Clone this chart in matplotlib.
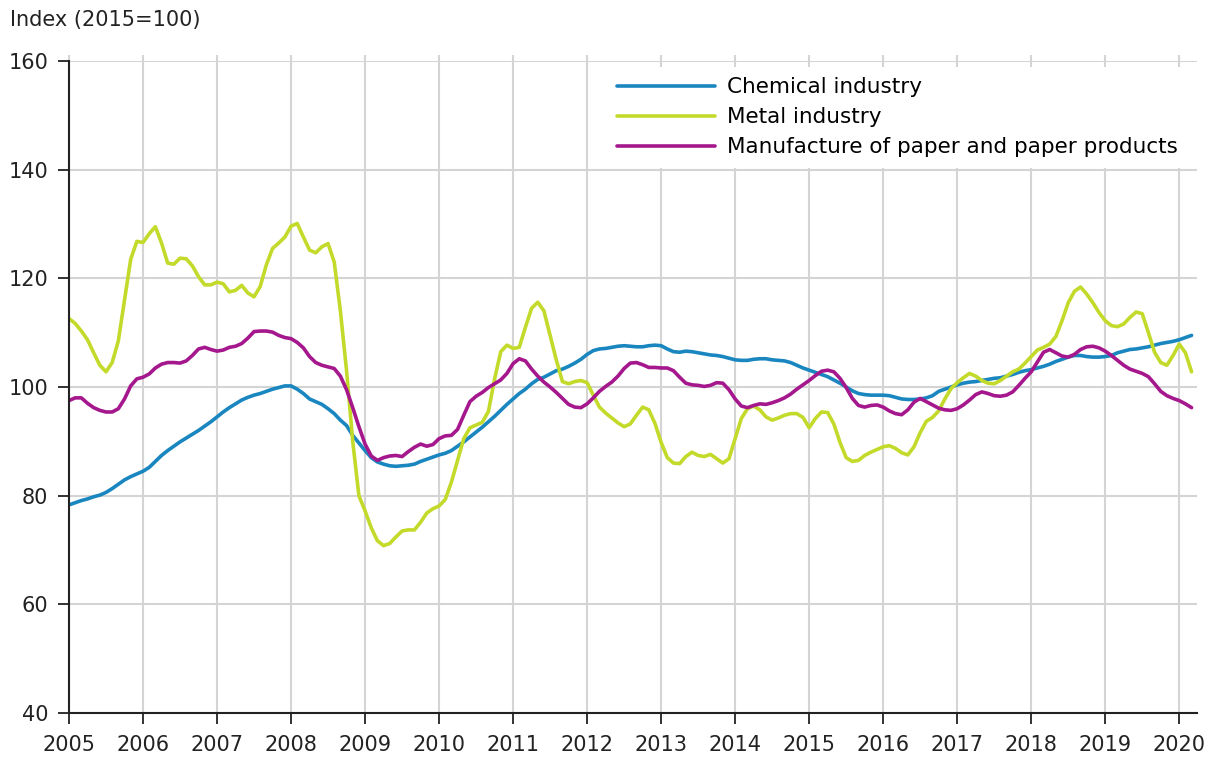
import matplotlib
matplotlib.use('Agg')
import matplotlib.pyplot as plt
import numpy as np


# monthly index values, Jan 2005 .. Mar 2020 (2015=100)
START_YEAR = 2005

chemical = [
    78.3, 78.7, 79.1, 79.4, 79.8, 80.1, 80.6, 81.3, 82.1, 82.9, 83.5, 84.0,
    84.5, 85.2, 86.3, 87.4, 88.3, 89.1, 89.9, 90.6, 91.3, 92.0, 92.8, 93.6,
    94.5, 95.4, 96.2, 96.9, 97.6, 98.1, 98.5, 98.8, 99.2, 99.6, 99.9, 100.2,
    100.2, 99.6, 98.8, 97.8, 97.3, 96.8, 96.0, 95.1, 93.9, 92.9, 91.1, 89.7,
    88.3, 87.0, 86.2, 85.8, 85.5, 85.4, 85.5, 85.6, 85.8, 86.3, 86.7, 87.1,
    87.5, 87.8, 88.3, 89.1, 89.9, 90.8, 91.7, 92.6, 93.6, 94.6, 95.7, 96.8,
    97.8, 98.8, 99.6, 100.6, 101.4, 101.8, 102.4, 103.0, 103.3, 103.8, 104.4, 105.1,
    106.0, 106.7, 107.0, 107.1, 107.3, 107.5, 107.6, 107.5, 107.4, 107.4, 107.6, 107.7,
    107.6, 107.0, 106.5, 106.4, 106.6, 106.5, 106.3, 106.1, 105.9, 105.8, 105.6, 105.3,
    105.0, 104.9, 104.9, 105.1, 105.2, 105.2, 105.0, 104.9, 104.8, 104.5, 104.0, 103.5,
    103.1, 102.7, 102.3, 101.9, 101.3, 100.7, 100.0, 99.3, 98.8, 98.6, 98.5, 98.5,
    98.5, 98.4, 98.1, 97.8, 97.7, 97.7, 97.8, 98.0, 98.4, 99.2, 99.6, 100.0,
    100.4, 100.7, 100.9, 101.0, 101.2, 101.4, 101.6, 101.7, 102.0, 102.3, 102.7, 103.0,
    103.2, 103.5, 103.8, 104.2, 104.7, 105.1, 105.5, 105.8, 105.8, 105.6, 105.5, 105.5,
    105.6, 105.8, 106.3, 106.6, 106.9, 107.0, 107.2, 107.4, 107.7, 108.0, 108.2, 108.4,
    108.7, 109.1, 109.5,
]

metal = [
    112.6, 111.7, 110.3, 108.7, 106.3, 104.0, 102.8, 104.5, 108.5, 116.0, 123.5, 126.8,
    126.6, 128.2, 129.5, 126.5, 122.8, 122.6, 123.7, 123.6, 122.3, 120.3, 118.8, 118.8,
    119.3, 119.0, 117.5, 117.8, 118.7, 117.3, 116.6, 118.5, 122.5, 125.5, 126.5, 127.6,
    129.6, 130.1, 127.6, 125.2, 124.7, 125.8, 126.4, 123.0, 114.0, 103.0, 90.0, 80.0,
    77.2, 74.1, 71.7, 70.8, 71.2, 72.4, 73.5, 73.7, 73.7, 75.1, 76.8, 77.6,
    78.1, 79.3, 82.5, 86.5, 90.5, 92.5, 93.0, 93.5, 95.5, 101.5, 106.5, 107.7,
    107.1, 107.3, 111.0, 114.5, 115.6, 114.0, 109.5, 105.0, 101.0, 100.6, 101.0, 101.2,
    100.8, 98.5, 96.3, 95.2, 94.3, 93.4, 92.7, 93.2, 94.8, 96.3, 95.8, 93.3,
    89.8, 87.0, 86.0, 85.9, 87.2, 88.0, 87.4, 87.2, 87.6, 86.8, 86.0, 86.8,
    90.5, 94.2, 96.0, 96.5, 95.8, 94.5, 93.9, 94.3, 94.8, 95.1, 95.1, 94.4,
    92.5, 94.2, 95.4, 95.3, 93.2, 89.8, 87.0, 86.3, 86.5, 87.4, 88.0, 88.5,
    89.0, 89.2, 88.7, 87.9, 87.5, 89.0, 91.6, 93.7, 94.4, 95.6, 97.8, 99.7,
    100.8, 101.7, 102.5, 102.0, 101.2, 100.7, 100.6, 101.2, 102.0, 102.8, 103.3, 104.4,
    105.6, 106.8, 107.3, 107.9, 109.3, 112.2, 115.5, 117.6, 118.4, 117.1, 115.5, 113.7,
    112.2, 111.3, 111.1, 111.6, 112.8, 113.8, 113.5, 110.0, 106.4, 104.5, 104.0, 105.8,
    107.9, 106.3, 102.8,
]

paper = [
    97.5, 98.0, 98.0, 97.0, 96.2, 95.7, 95.4, 95.4, 96.0, 97.8, 100.2, 101.5,
    101.8, 102.4, 103.5, 104.2, 104.5, 104.5, 104.4, 104.8, 105.8, 107.0, 107.3, 106.9,
    106.6, 106.8, 107.3, 107.5, 108.0, 109.0, 110.2, 110.3, 110.3, 110.1, 109.5, 109.1,
    108.9, 108.2, 107.2, 105.6, 104.5, 104.0, 103.7, 103.4, 102.0, 99.5, 96.2, 92.7,
    89.5, 87.3, 86.5, 87.0, 87.3, 87.4, 87.2, 88.1, 88.9, 89.5, 89.1, 89.4,
    90.5, 91.0, 91.1, 92.2, 94.8, 97.3, 98.3, 99.0, 99.9, 100.6, 101.3, 102.5,
    104.3, 105.2, 104.8, 103.3, 102.0, 100.9, 100.0, 99.0, 97.9, 96.8, 96.3, 96.2,
    96.9, 98.0, 99.2, 100.1, 100.9, 102.0, 103.4, 104.4, 104.5, 104.1, 103.6, 103.6,
    103.5, 103.5, 103.0, 101.8, 100.7, 100.4, 100.3, 100.1, 100.3, 100.8, 100.7, 99.5,
    97.8, 96.5, 96.2, 96.6, 96.9, 96.8, 97.1, 97.5, 98.0, 98.7, 99.6, 100.4,
    101.2, 102.1, 102.9, 103.1, 102.8, 101.6, 99.9, 97.9, 96.6, 96.3, 96.6, 96.7,
    96.3, 95.6, 95.1, 94.9, 95.8, 97.2, 97.9, 97.3, 96.7, 96.1, 95.8, 95.7,
    96.0, 96.7, 97.6, 98.6, 99.1, 98.8, 98.4, 98.3, 98.5, 99.1, 100.3, 101.6,
    102.8, 104.6, 106.4, 106.9, 106.3, 105.7, 105.5, 106.0, 106.9, 107.4, 107.5, 107.2,
    106.6, 105.8, 104.9, 104.0, 103.3, 102.9, 102.5, 101.9, 100.6, 99.2, 98.4, 97.9,
    97.5, 96.9, 96.2,
]

labels = ['Chemical industry', 'Metal industry', 'Manufacture of paper and paper products']
colors = ['#1a86c0', '#c3da2b', '#a5178d']
year_ticks = list(range(2005, 2021))
y_ticks = [40, 60, 80, 100, 120, 140, 160]


if __name__ == '__main__':
    plt.rcParams['font.family'] = ['DejaVu Sans']
    W, H = 1217, 765
    GRID = '#d4d4d4'
    INK = '#222222'
    fig = plt.figure(figsize=(W / 100, H / 100), dpi=100)
    ax = fig.add_axes([69 / W, 1 - 713 / H, (1197 - 69) / W, (713 - 61) / H])

    months = START_YEAR + np.arange(len(chemical)) / 12.0
    for series, lab, col in zip([chemical, metal, paper], labels, colors):
        ax.plot(months, series, color=col, lw=2.6, label=lab, solid_capstyle='round', zorder=3)

    ax.set_xlim(2005, 2020.24)
    ax.set_ylim(40, 160)
    ax.set_xticks(year_ticks)
    ax.set_yticks(y_ticks)
    ax.grid(True, color=GRID, lw=1.5, zorder=0)
    ax.set_axisbelow(True)

    for s in ['top', 'right']:
        ax.spines[s].set_visible(False)
    for s in ['left', 'bottom']:
        ax.spines[s].set_color(INK)
        ax.spines[s].set_linewidth(1.5)
        ax.spines[s].set_zorder(4)

    ax.tick_params(axis='both', labelsize=15, colors=INK, length=8, width=1.3)
    ax.tick_params(axis='y', pad=7)
    ax.tick_params(axis='x', pad=8)

    # short grey stubs of the vertical grid above the top line
    top = ax.secondary_xaxis('top')
    top.set_xticks(year_ticks)
    top.tick_params(length=4, width=1.5, color=GRID, labeltop=False)
    top.spines['top'].set_visible(False)

    leg = ax.legend(loc='upper left', bbox_to_anchor=(606 / W, 1 - 66.7 / H),
                    bbox_transform=fig.transFigure, fontsize=15.5, frameon=True,
                    handlelength=4.55, handletextpad=0.55, labelspacing=0.46,
                    borderpad=0.5, borderaxespad=0, fancybox=False)
    leg.get_frame().set_facecolor('white')
    leg.get_frame().set_edgecolor('none')
    leg.get_frame().set_alpha(1)
    leg.set_zorder(5)

    fig.text(10 / W, 1 - 20 / H, 'Index (2015=100)', fontsize=15, color=INK, va='center')

    fig.savefig('out.png', dpi=100)
